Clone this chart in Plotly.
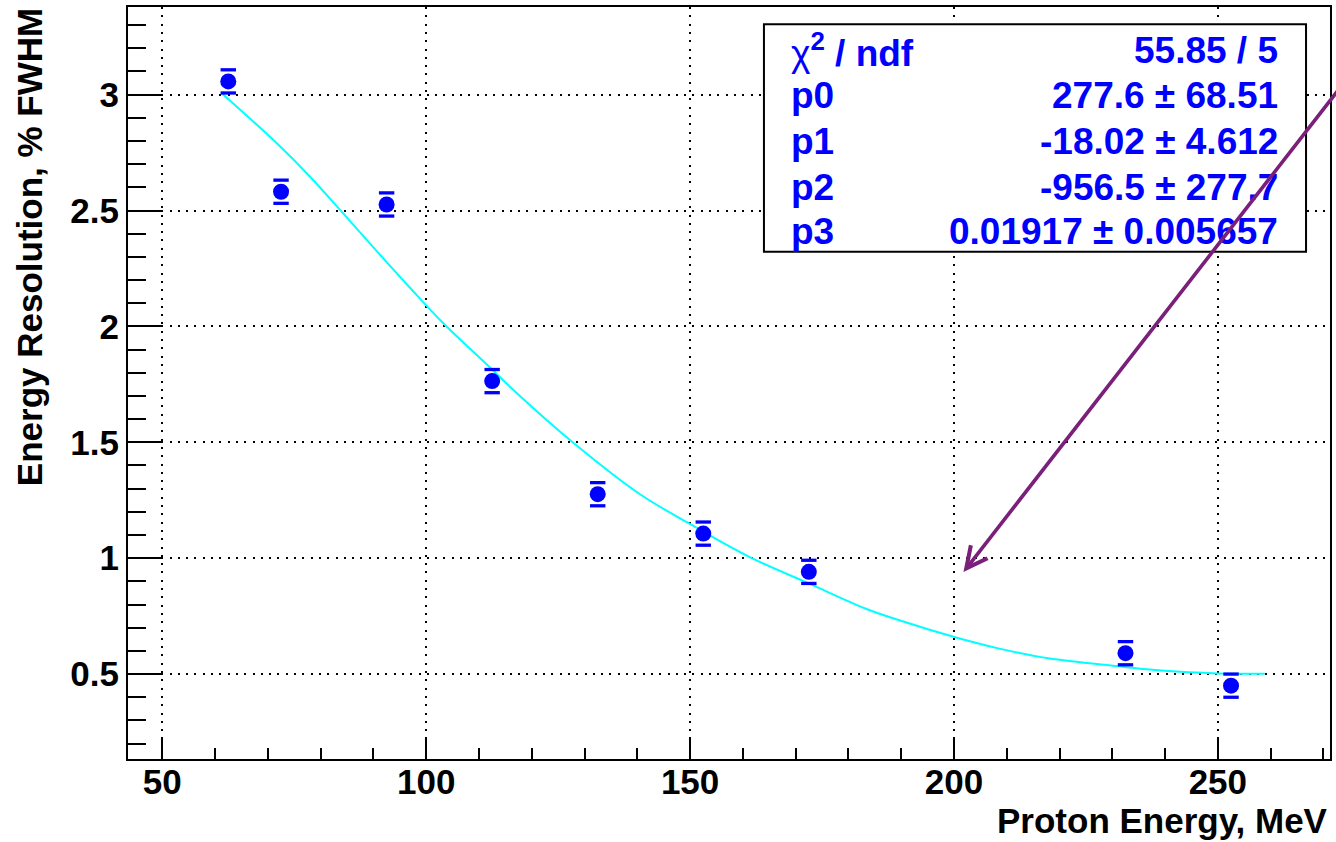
import plotly.graph_objects as go

# ---------------- data ----------------
energy = [62.5, 72.5, 92.5, 112.5, 132.5, 152.5, 172.5, 232.5, 252.5]
resolution = [3.057, 2.581, 2.526, 1.764, 1.276, 1.106, 0.941, 0.590, 0.450]
res_err = [0.05, 0.05, 0.05, 0.05, 0.05, 0.05, 0.05, 0.05, 0.05]

fit_x = [61.2, 71.6, 77.9, 83.9, 90.5, 96.8, 103.1, 112.0, 117.6, 127.7, 140.3,
         149.8, 161.2, 172.5, 183.2, 189.5, 199.9, 208.4, 217.9, 231.1, 239.9,
         250.0, 258.9]
fit_y = [3.007, 2.792, 2.648, 2.497, 2.328, 2.170, 2.017, 1.825, 1.703, 1.501,
         1.279, 1.150, 1.006, 0.891, 0.783, 0.733, 0.661, 0.611, 0.568, 0.534,
         0.514, 0.503, 0.501]

stat_labels = ["<span style='font-weight:normal'>\u03c7</span><sup>2</sup> / ndf",
               "p0", "p1", "p2", "p3"]
stat_values = ["55.85 / 5", "277.6 \u00b1 68.51", "-18.02 \u00b1 4.612",
               "-956.5 \u00b1 277.7", "0.01917 \u00b1 0.005657"]

x_ticks = [50, 100, 150, 200, 250]
y_ticks = [0.5, 1, 1.5, 2, 2.5, 3]
y_ticktext = ["0.5", "1", "1.5", "2", "2.5", "3"]

arrow_head = (201.8, 0.94)
arrow_tail = (273.0, 3.025)

x_title = "Proton Energy, MeV"
y_title = "Energy Resolution, % FWHM"

# ---------------- layout helpers ----------------
W_FIG, H_FIG = 1336, 842
PL, PR, PT, PB = 128, 1332, 7, 759
PW, PH = PR - PL, PB - PT


def px(xp):
    return (xp - PL) / PW


def py(yp):
    return (PB - yp) / PH


FONT = "Liberation Sans"
BLUE = "#0000ff"

fig = go.Figure()

# fit curve
fig.add_trace(go.Scatter(x=fit_x, y=fit_y, mode="lines",
                         line=dict(color="#00ffff", width=2, shape="spline",
                                   smoothing=1.0),
                         hoverinfo="skip", showlegend=False))

# error caps
cap_x = energy + energy
cap_y = [v + e for v, e in zip(resolution, res_err)] + \
        [v - e for v, e in zip(resolution, res_err)]
fig.add_trace(go.Scatter(x=cap_x, y=cap_y, mode="markers",
                         marker=dict(symbol="line-ew", size=11,
                                     line=dict(color=BLUE, width=3.3)),
                         hoverinfo="skip", showlegend=False))

# data points
fig.add_trace(go.Scatter(x=energy, y=resolution, mode="markers",
                         marker=dict(symbol="circle", size=16, color=BLUE,
                                     line=dict(width=0)),
                         showlegend=False))

axis_common = dict(
    showline=True, linecolor="black", linewidth=2, mirror=True,
    ticks="inside", tickcolor="black", tickwidth=2,
    showgrid=True, gridcolor="black", gridwidth=2, griddash="2px,6.3px",
    zeroline=False,
    tickfont=dict(family=FONT, size=35, color="black", weight="bold"),
)

fig.update_xaxes(range=[43.5, 271.25], tickvals=x_ticks, ticklen=22,
                 ticklabelstandoff=-9,
                 minor=dict(dtick=10, tick0=0, ticks="inside", ticklen=11,
                            tickwidth=2, tickcolor="black", showgrid=False),
                 **axis_common)
fig.update_yaxes(range=[0.1336, 3.378], tickvals=y_ticks, ticktext=y_ticktext,
                 ticklen=35,
                 minor=dict(dtick=0.1, tick0=0, ticks="inside", ticklen=18,
                            tickwidth=2, tickcolor="black", showgrid=False),
                 **axis_common)

# stats box
fig.add_shape(type="rect", xref="paper", yref="paper",
              x0=px(765), x1=px(1308), y0=py(251.7), y1=py(24.3),
              fillcolor="white", line=dict(color="black", width=2),
              layer="above")

row_centers = [51, 95, 141, 187, 231]
annotations = []
for lab, val, yc in zip(stat_labels, stat_values, row_centers):
    annotations.append(dict(text=lab, xref="paper", yref="paper",
                            x=px(790), y=py(yc), xanchor="left", yanchor="middle",
                            showarrow=False,
                            font=dict(family=FONT, size=37, color=BLUE, weight="bold")))
    annotations.append(dict(text=val, xref="paper", yref="paper",
                            x=px(1282), y=py(yc), xanchor="right", yanchor="middle",
                            showarrow=False,
                            font=dict(family=FONT, size=37, color=BLUE, weight="bold")))

# arrow
annotations.append(dict(text="", x=arrow_head[0], y=arrow_head[1], xref="x", yref="y",
                        ax=arrow_tail[0], ay=arrow_tail[1], axref="x", ayref="y",
                        showarrow=True, arrowhead=5, arrowsize=1.15, arrowwidth=3.6,
                        arrowcolor="#7a1f7a", standoff=0, startstandoff=0))

# axis titles
annotations.append(dict(text=x_title, xref="paper", yref="paper",
                        x=1.0, y=py(820), xanchor="right", yanchor="middle",
                        showarrow=False,
                        font=dict(family=FONT, size=35, color="black", weight="bold")))
annotations.append(dict(text=y_title, xref="paper", yref="paper", textangle=-90,
                        x=px(29), y=py(6), xanchor="center", yanchor="top",
                        showarrow=False,
                        font=dict(family=FONT, size=35, color="black", weight="bold")))

fig.update_layout(
    width=W_FIG, height=H_FIG, autosize=False,
    margin=dict(l=PL, r=W_FIG - PR, t=PT, b=H_FIG - PB, pad=0),
    paper_bgcolor="white", plot_bgcolor="white",
    showlegend=False,
    annotations=annotations,
)

fig.write_html("out.html")
